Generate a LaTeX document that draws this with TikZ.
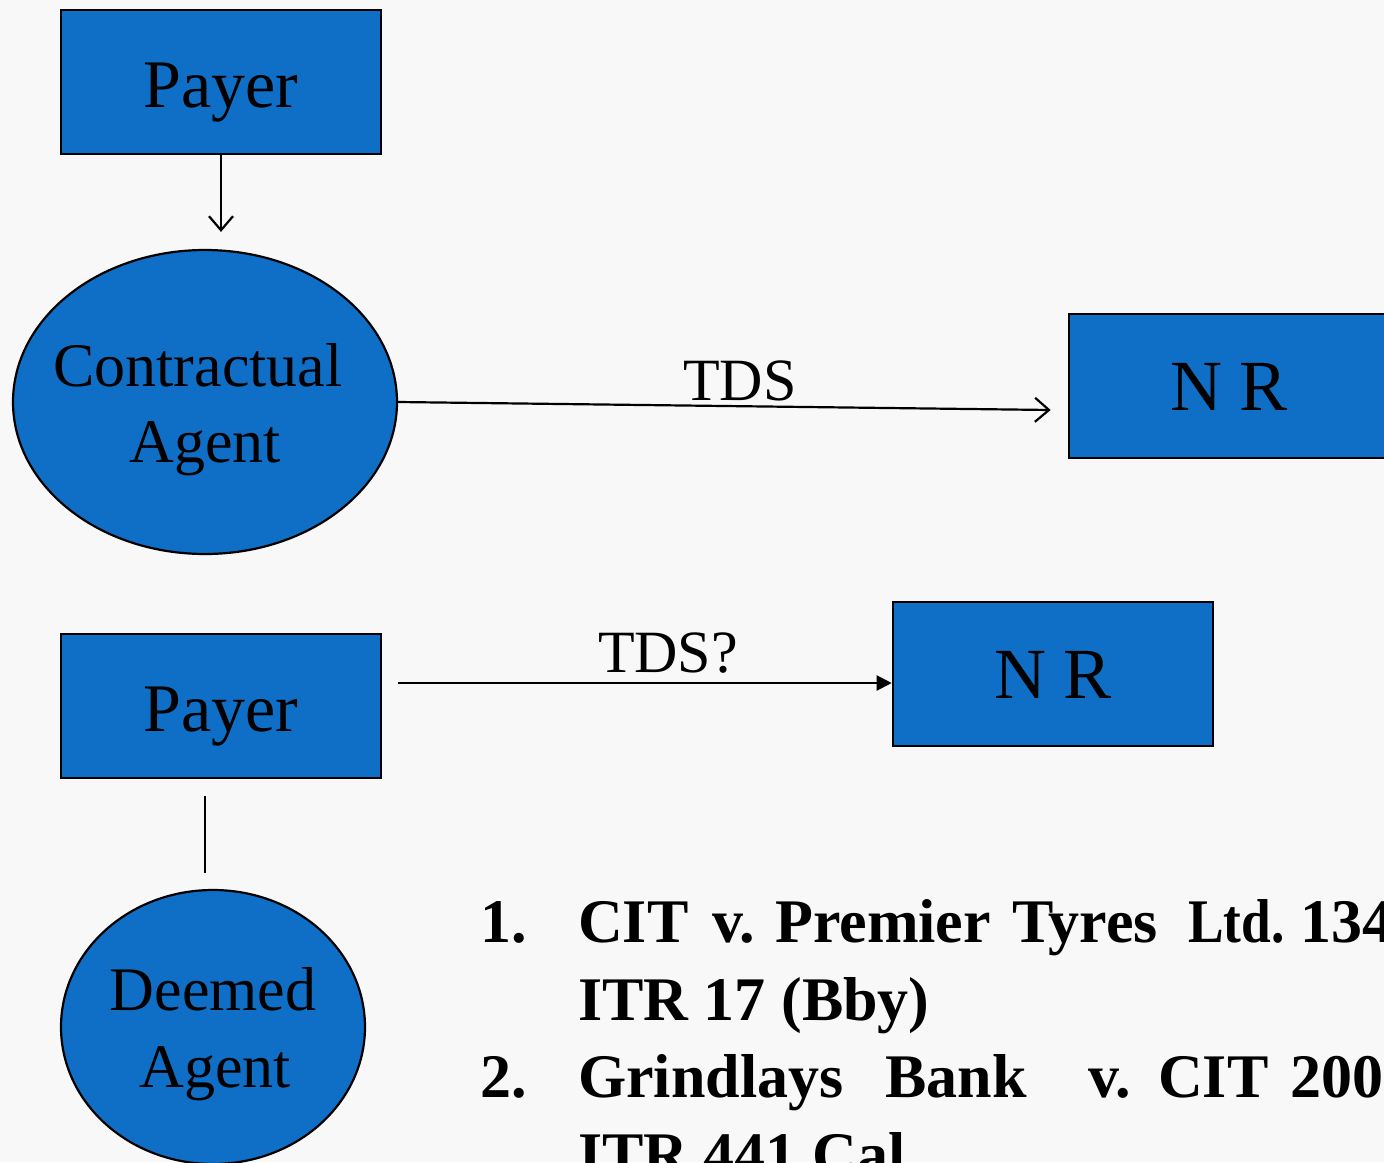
\documentclass[tikz,border=0pt]{standalone}
\usepackage{fontspec}
\setmainfont{Liberation Serif}
\usetikzlibrary{shapes.geometric,arrows.meta}
\definecolor{boxblue}{HTML}{0F6FC6}
\definecolor{paper}{HTML}{F8F8F8}
\tikzset{
  boxnode/.style={draw=black, line width=2.6pt, fill=boxblue, rectangle,
    inner sep=0pt, minimum width=320pt, minimum height=144pt},
  ovalnode/.style={draw=black, line width=2.2pt, fill=boxblue, ellipse, inner sep=0pt},
  lbl/.style={anchor=base, inner sep=0pt, font=\fontsize{62}{74}\selectfont},
  bigl/.style={anchor=base, inner sep=0pt, font=\fontsize{68}{80}\selectfont},
  nrl/.style={anchor=base, inner sep=0pt, font=\fontsize{72}{84}\selectfont},
  edgel/.style={anchor=base, inner sep=0pt, font=\fontsize{60}{72}\selectfont},
  listtxt/.style={anchor=base west, inner sep=0pt, font=\fontsize{62}{74}\selectfont\bfseries},
  conn/.style={line width=2.2pt, draw=black},
  openhead/.style={-{Straight Barb[length=14pt,width=24pt,line width=2.2pt]}},
  solidhead/.style={-{Triangle[length=15pt,width=15pt]}}
}
\begin{document}
\begin{tikzpicture}[x=1pt,y=-1pt]
  \useasboundingbox (0,0) rectangle (1384,1162);
  \fill[paper] (0,0) rectangle (1384,1162);
  \clip (0,0) rectangle (1384,1162);

  % upper chain: payer -> contractual agent -> non-resident
  \node[boxnode] (payer1) at (221,82) {};
  \node[ovalnode, minimum width=384pt, minimum height=304pt] (ca) at (205,402) {};
  \node[boxnode, minimum width=326pt] (nr1) at (1232,386) {};

  \node[bigl] (payer1t) at (221,107) {Payer};
  \node[lbl] (ca1t) at (198,386) {Contractual};
  \node[lbl] (ca2t) at (205,462) {Agent};
  \node[nrl] (nr1t) at (1229,410) {N R};

  \draw[conn, openhead] (payer1.south) -- ([shift={(0,-17)}]payer1.south |- ca.north);
  \draw[conn, openhead] (ca.east) -- ([shift={(-17,24)}]nr1.west);
  \node[edgel] (tds1) at (740,400) {TDS};

  % lower chain: payer -> non-resident, deemed agent
  \node[boxnode] (payer2) at (221,706) {};
  \node[boxnode] (nr2) at (1053,674) {};
  \node[ovalnode, minimum width=304pt, minimum height=274pt] (da) at (213,1027) {};

  \node[bigl] (payer2t) at (221,731) {Payer};
  \node[nrl] (nr2t) at (1053,698) {N R};
  \node[lbl] (da1t) at (213,1010) {Deemed};
  \node[lbl] (da2t) at (215,1087) {Agent};

  \draw[conn, solidhead] ([shift={(16,-23)}]payer2.east) -- ([shift={(0,9)}]nr2.west);
  \node[edgel] (tds2) at (668,672) {TDS?};
  \draw[conn] ([shift={(-16,17)}]payer2.south) -- ([shift={(-8,-16)}]da.north);

  % case references
  \node[listtxt] (n1) at (480,942) {1.};
  \foreach \xx/\ww [count=\i] in {578/CIT, 712/v., 775/Premier, 1012/Tyres, 1188/\scalebox{0.86}[1]{Ltd.}, 1300/134}
    \node[listtxt] (wa\i) at (\xx,942) {\ww};
  \node[listtxt] (l2) at (578,1020) {ITR 17 (Bby)};
  \node[listtxt] (n2) at (480,1097) {2.};
  \foreach \xx/\ww [count=\i] in {578/Grindlays, 885/Bank, 1088/v., 1158/CIT, 1290/200}
    \node[listtxt] (wb\i) at (\xx,1097) {\ww};
  \node[listtxt] (l4) at (578,1175) {ITR 441 Cal};
\end{tikzpicture}
\end{document}
